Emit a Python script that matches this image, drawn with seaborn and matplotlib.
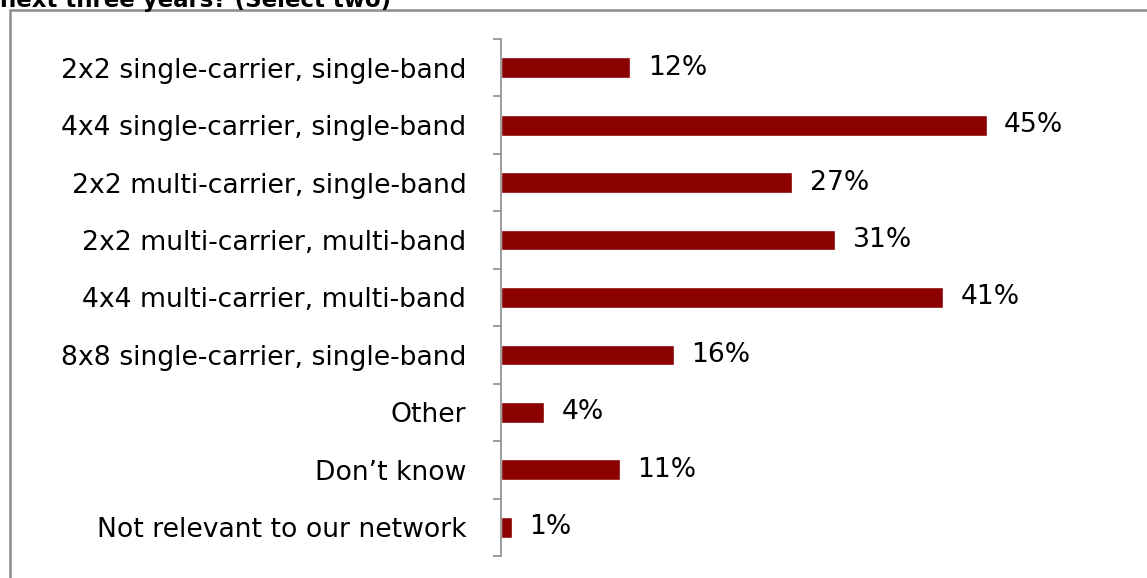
import matplotlib
matplotlib.use("Agg")
import matplotlib.pyplot as plt
from matplotlib.patches import Rectangle
import seaborn as sns
import pandas as pd
import numpy as np

categories = [
    "2x2 single-carrier, single-band",
    "4x4 single-carrier, single-band",
    "2x2 multi-carrier, single-band",
    "2x2 multi-carrier, multi-band",
    "4x4 multi-carrier, multi-band",
    "8x8 single-carrier, single-band",
    "Other",
    "Don\u2019t know",
    "Not relevant to our network",
]
values = [12, 45, 27, 31, 41, 16, 4, 11, 1]
title_text = "next three years? (Select two)"

df = pd.DataFrame({"option": categories, "share": values})

sns.set_theme(style="white")
plt.rcParams["font.family"] = ["DejaVu Sans"]

W, H = 1147, 578
fig = plt.figure(figsize=(W / 100, H / 100), dpi=100)

x0_px, y_top_px, y_bot_px = 501, 39, 556
px_per_unit = 10.79
xmax = 55
ax = fig.add_axes([x0_px / W, 1 - y_bot_px / H,
                   xmax * px_per_unit / W, (y_bot_px - y_top_px) / H])

bar_color = "#8B0000"
sns.barplot(data=df, y="option", x="share", orient="h", color=bar_color,
            width=0.36, saturation=1, ax=ax)

ax.set_xlim(0, xmax)
ax.set_ylim(len(categories) - 0.5, -0.5)
ax.set_xlabel("")
ax.set_ylabel("")
ax.set_xticks([])

for s in ["top", "right", "bottom"]:
    ax.spines[s].set_visible(False)
ax.spines["left"].set_color("#8c8c8c")
ax.spines["left"].set_linewidth(1.2)

label_size = 19.2
ax.set_yticks(range(len(categories)))
ax.set_yticklabels(categories, fontsize=label_size, color="black")
ax.tick_params(axis="y", which="major", left=False, length=0, pad=25)
ax.set_yticks(np.arange(-0.5, len(categories), 1), minor=True)
ax.tick_params(axis="y", which="minor", left=True, length=6, width=1.2,
               color="#8c8c8c", direction="out")

for i, v in enumerate(values):
    ax.text(v + 1.6, i, f"{v}%", va="center", ha="left",
            fontsize=label_size, color="black")

# frame around the chart area
fig.patches.append(Rectangle((10 / W, -0.01), 1.02, 1 - 10 / H + 0.01,
                             transform=fig.transFigure, fill=False,
                             edgecolor="#8c8c8c", linewidth=1.8))

fig.text(0.0, 1 - 1 / H, title_text, fontsize=16.5, fontweight="bold",
         ha="left", va="center", color="black")

fig.savefig("out.png", dpi=100)
